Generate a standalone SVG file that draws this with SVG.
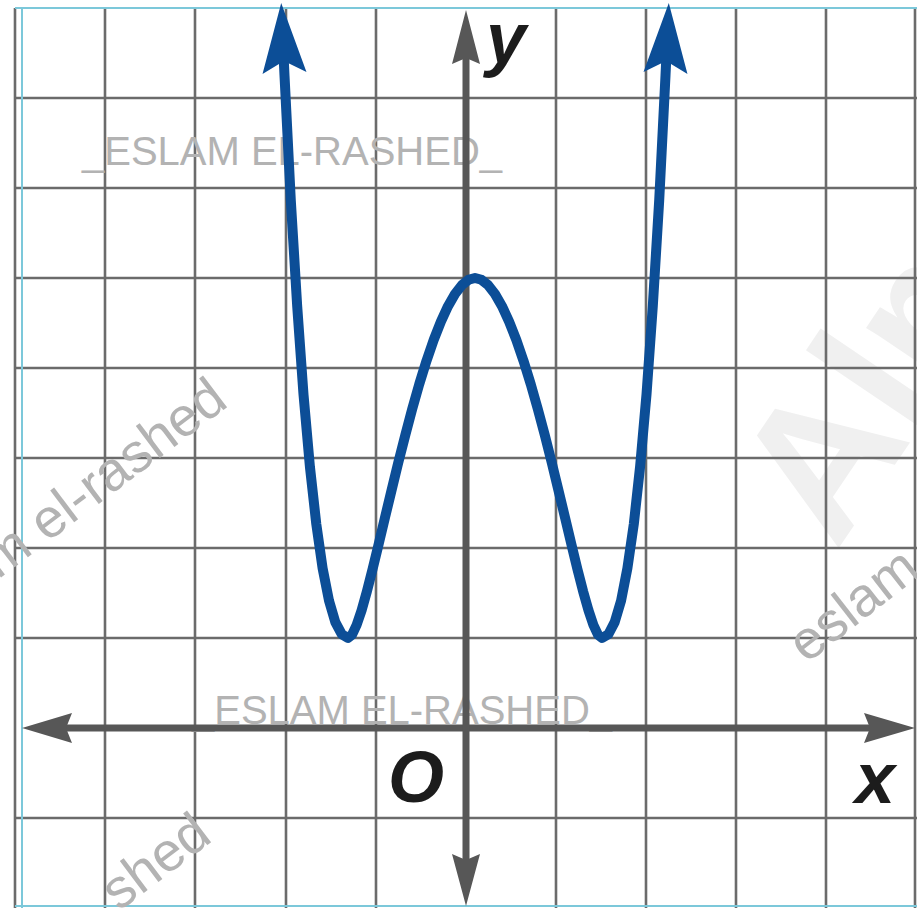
<svg xmlns="http://www.w3.org/2000/svg" width="917" height="908" viewBox="0 0 917 908">
  <style>
    .grid line { stroke: #6b6b6b; stroke-width: 2.6; }
    .border line { stroke: #7cc8da; stroke-width: 2; }
    .axis { stroke: #575757; stroke-width: 7; fill: none; }
    .axhead { fill: #575757; }
    .curve { stroke: #0c4e97; stroke-width: 10; fill: none; stroke-linejoin: round; }
    .curvehead { fill: #0c4e97; }
    .label { font-family: "Liberation Sans", Arial, sans-serif; font-weight: bold; font-style: italic; font-size: 72px; fill: #1c1c1c; }
    .wm { font-family: "Liberation Sans", Arial, sans-serif; fill: #b3b3b3; }
    .wmbig { font-family: "Liberation Sans", Arial, sans-serif; font-weight: bold; fill: #f0f0f0; }
  </style>
  <rect x="0" y="0" width="917" height="908" fill="#ffffff"/>

  <g id="watermark-big">
    <text class="wmbig" font-size="190" transform="translate(836,552) rotate(-56)">Alm</text>
  </g>

  <g id="grid" class="grid">
    <line x1="15" y1="8" x2="15" y2="908"/>
    <line x1="105" y1="8" x2="105" y2="908"/>
    <line x1="195" y1="8" x2="195" y2="908"/>
    <line x1="286" y1="8" x2="286" y2="908"/>
    <line x1="376" y1="8" x2="376" y2="908"/>
    <line x1="556" y1="8" x2="556" y2="908"/>
    <line x1="646" y1="8" x2="646" y2="908"/>
    <line x1="736" y1="8" x2="736" y2="908"/>
    <line x1="826" y1="8" x2="826" y2="908"/>
    <line x1="915" y1="8" x2="915" y2="908"/>
    <line x1="15" y1="98" x2="917" y2="98"/>
    <line x1="15" y1="188" x2="917" y2="188"/>
    <line x1="15" y1="278" x2="917" y2="278"/>
    <line x1="15" y1="368" x2="917" y2="368"/>
    <line x1="15" y1="458" x2="917" y2="458"/>
    <line x1="15" y1="548" x2="917" y2="548"/>
    <line x1="15" y1="638" x2="917" y2="638"/>
    <line x1="15" y1="818" x2="917" y2="818"/>
  </g>
  <g id="border" class="border">
    <line x1="15" y1="8" x2="917" y2="8"/>
    <line x1="22" y1="8" x2="22" y2="908"/>
    <line x1="15" y1="906" x2="917" y2="906"/>
  </g>

  <g id="watermarks">
    <text class="wm" x="82" y="165" font-size="40" textLength="420" lengthAdjust="spacingAndGlyphs">_ESLAM EL-RASHED_</text>
    <text class="wm" x="192" y="724" font-size="40" textLength="420" lengthAdjust="spacingAndGlyphs">_ESLAM EL-RASHED_</text>
    <text class="wm" font-size="55" text-anchor="end" transform="translate(230,405) rotate(-37)">m el-rashed</text>
    <text class="wm" font-size="55" text-anchor="end" transform="translate(214,840) rotate(-37)">shed</text>
    <text class="wm" font-size="55" text-anchor="end" transform="translate(922,574) rotate(-38)">eslam</text>
  </g>

  <g id="connectors">
    <g id="x-axis">
      <line class="axis" x1="60" y1="728" x2="872" y2="728"/>
      <polygon class="axhead" points="22,728 72,713 66,728 72,743"/>
      <polygon class="axhead" points="915,728 864,713 870,728 864,743"/>
    </g>
    <g id="y-axis">
      <line class="axis" x1="466" y1="55" x2="466" y2="862"/>
      <polygon class="axhead" points="466,10 452,64 466,58 480,64"/>
      <polygon class="axhead" points="466,906 452,854 466,860 480,854"/>
    </g>
    <g id="graph">
      <path class="curve" d="M283.2,48.1 L284.5,75.5 L290.8,200.4 L297.2,306.2 L303.5,394.5 L309.9,466.6 L316.3,524.1 L322.6,568.3 L329.0,600.6 L335.3,622.1 L341.7,634.2 L348,638 L352.1,634.6 L356.6,625.0 L361.6,610.3 L366.9,591.3 L372.6,569.1 L378.6,544.4 L384.9,517.9 L391.5,490.5 L398.2,462.9 L405.2,435.5 L412.2,409.0 L419.3,384.0 L426.5,360.8 L433.7,339.9 L440.9,321.6 L448.0,306.2 L455.0,294.0 L461.8,285.2 L468.5,279.8 L475,278 L481.5,279.8 L488.2,285.2 L495.0,294.0 L502.0,306.2 L509.1,321.6 L516.3,339.9 L523.5,360.8 L530.7,384.0 L537.8,409.0 L544.9,435.5 L551.8,462.9 L558.5,490.5 L565.1,517.9 L571.4,544.4 L577.4,569.1 L583.1,591.3 L588.5,610.3 L593.4,625.0 L597.9,634.6 L602,638 L608.4,634.2 L614.7,622.1 L621.1,600.6 L627.4,568.3 L633.8,524.1 L640.1,466.6 L646.5,394.5 L652.8,306.2 L659.2,200.4 L665.5,75.5 L666.8,48.1"/>
      <polygon class="curvehead" points="0,0 -22,70 0,58 22,70" transform="translate(281.2,3) rotate(-2.7)"/>
      <polygon class="curvehead" points="0,0 -22,70 0,58 22,70" transform="translate(668.8,3) rotate(2.7)"/>
    </g>
  </g>

  <g id="labels">
    <text id="label-y" class="label" x="486" y="63">y</text>
    <text id="label-o" class="label" x="388" y="802">O</text>
    <text id="label-x" class="label" x="855" y="803">x</text>
  </g>
</svg>
